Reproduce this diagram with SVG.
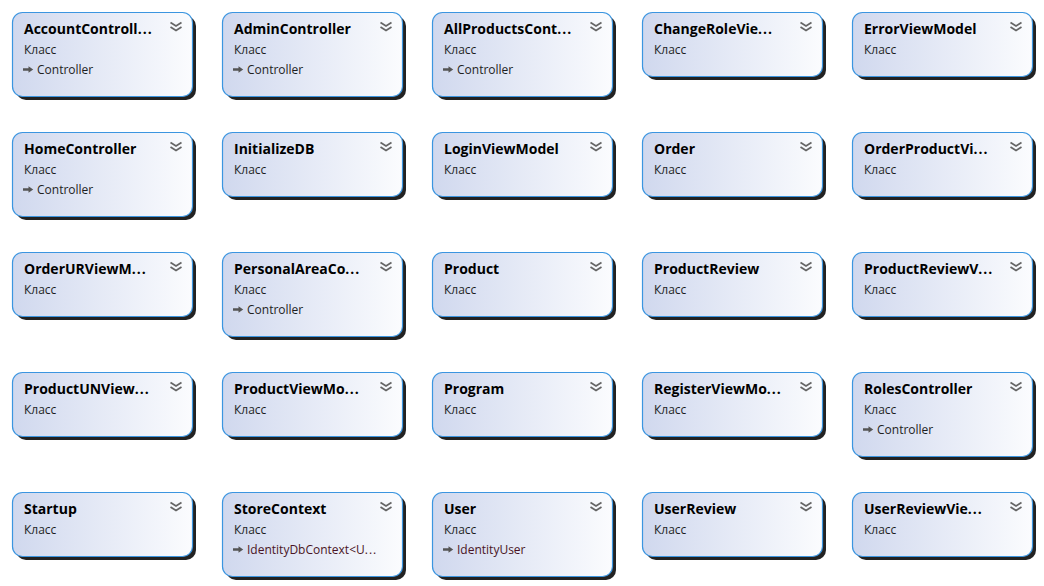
<svg xmlns="http://www.w3.org/2000/svg" xmlns:xlink="http://www.w3.org/1999/xlink" width="1044" height="586" viewBox="0 0 1044 586">
<style>
.title{font-family:"Open Sans","Noto Sans",sans-serif;font-weight:bold;font-size:14px;fill:#000}
.kind{font-family:"Open Sans","Noto Sans",sans-serif;font-size:12px;fill:#1e1e1e}
.base{font-family:"Open Sans","Noto Sans",sans-serif;font-size:12px;fill:#1e1e1e}
.ext{fill:#4a1524}
.dots{letter-spacing:1px}
.shadow{fill:#222}
.box{fill:url(#grad);stroke:#3b95e0;stroke-width:1.2}
.chev{fill:none;stroke:#666;stroke-width:1.8}
.icon{fill:#555}
</style>
<defs>
<linearGradient id="grad" x1="0" y1="0" x2="1" y2="0">
<stop offset="0" stop-color="#d0d8ee"/>
<stop offset="1" stop-color="#fbfcfe"/>
</linearGradient>
<g id="box3">
<rect class="shadow" x="4" y="4" width="180" height="84" rx="10"/>
<rect class="box" x="0.5" y="0.5" width="180" height="84" rx="10"/>
<path class="chev" d="M158.5,10.5 L164,14 L169.5,10.5 M158.5,15 L164,18.5 L169.5,15"/>
<path class="icon" d="M11,56.3 H16.5 V54.3 L21.2,57.5 L16.5,60.7 V58.7 H11 Z"/>
</g>
<g id="box2">
<rect class="shadow" x="4" y="4" width="180" height="64" rx="10"/>
<rect class="box" x="0.5" y="0.5" width="180" height="64" rx="10"/>
<path class="chev" d="M158.5,10.5 L164,14 L169.5,10.5 M158.5,15 L164,18.5 L169.5,15"/>
</g>
</defs>
<g id="connectors"/>
<g id="AccountController" transform="translate(12,12)"><use href="#box3"/><text class="title" x="12" y="21.5">AccountControll<tspan class="dots">...</tspan></text><text class="kind" x="12" y="41.5">Класс</text><text class="base" x="25" y="61.5">Controller</text></g>
<g id="AdminController" transform="translate(222,12)"><use href="#box3"/><text class="title" x="12" y="21.5">AdminController</text><text class="kind" x="12" y="41.5">Класс</text><text class="base" x="25" y="61.5">Controller</text></g>
<g id="AllProductsController" transform="translate(432,12)"><use href="#box3"/><text class="title" x="12" y="21.5">AllProductsCont<tspan class="dots">...</tspan></text><text class="kind" x="12" y="41.5">Класс</text><text class="base" x="25" y="61.5">Controller</text></g>
<g id="ChangeRoleViewModel" transform="translate(642,12)"><use href="#box2"/><text class="title" x="12" y="21.5">ChangeRoleVie<tspan class="dots">...</tspan></text><text class="kind" x="12" y="41.5">Класс</text></g>
<g id="ErrorViewModel" transform="translate(852,12)"><use href="#box2"/><text class="title" x="12" y="21.5">ErrorViewModel</text><text class="kind" x="12" y="41.5">Класс</text></g>

<g id="HomeController" transform="translate(12,132)"><use href="#box3"/><text class="title" x="12" y="21.5">HomeController</text><text class="kind" x="12" y="41.5">Класс</text><text class="base" x="25" y="61.5">Controller</text></g>
<g id="InitializeDB" transform="translate(222,132)"><use href="#box2"/><text class="title" x="12" y="21.5">InitializeDB</text><text class="kind" x="12" y="41.5">Класс</text></g>
<g id="LoginViewModel" transform="translate(432,132)"><use href="#box2"/><text class="title" x="12" y="21.5">LoginViewModel</text><text class="kind" x="12" y="41.5">Класс</text></g>
<g id="Order" transform="translate(642,132)"><use href="#box2"/><text class="title" x="12" y="21.5">Order</text><text class="kind" x="12" y="41.5">Класс</text></g>
<g id="OrderProductViewModel" transform="translate(852,132)"><use href="#box2"/><text class="title" x="12" y="21.5">OrderProductVi<tspan class="dots">...</tspan></text><text class="kind" x="12" y="41.5">Класс</text></g>

<g id="OrderURViewModel" transform="translate(12,252)"><use href="#box2"/><text class="title" x="12" y="21.5">OrderURViewM<tspan class="dots">...</tspan></text><text class="kind" x="12" y="41.5">Класс</text></g>
<g id="PersonalAreaController" transform="translate(222,252)"><use href="#box3"/><text class="title" x="12" y="21.5">PersonalAreaCo<tspan class="dots">...</tspan></text><text class="kind" x="12" y="41.5">Класс</text><text class="base" x="25" y="61.5">Controller</text></g>
<g id="Product" transform="translate(432,252)"><use href="#box2"/><text class="title" x="12" y="21.5">Product</text><text class="kind" x="12" y="41.5">Класс</text></g>
<g id="ProductReview" transform="translate(642,252)"><use href="#box2"/><text class="title" x="12" y="21.5">ProductReview</text><text class="kind" x="12" y="41.5">Класс</text></g>
<g id="ProductReviewViewModel" transform="translate(852,252)"><use href="#box2"/><text class="title" x="12" y="21.5">ProductReviewV<tspan class="dots">...</tspan></text><text class="kind" x="12" y="41.5">Класс</text></g>

<g id="ProductUNViewModel" transform="translate(12,372)"><use href="#box2"/><text class="title" x="12" y="21.5">ProductUNView<tspan class="dots">...</tspan></text><text class="kind" x="12" y="41.5">Класс</text></g>
<g id="ProductViewModel" transform="translate(222,372)"><use href="#box2"/><text class="title" x="12" y="21.5">ProductViewMo<tspan class="dots">...</tspan></text><text class="kind" x="12" y="41.5">Класс</text></g>
<g id="Program" transform="translate(432,372)"><use href="#box2"/><text class="title" x="12" y="21.5">Program</text><text class="kind" x="12" y="41.5">Класс</text></g>
<g id="RegisterViewModel" transform="translate(642,372)"><use href="#box2"/><text class="title" x="12" y="21.5">RegisterViewMo<tspan class="dots">...</tspan></text><text class="kind" x="12" y="41.5">Класс</text></g>
<g id="RolesController" transform="translate(852,372)"><use href="#box3"/><text class="title" x="12" y="21.5">RolesController</text><text class="kind" x="12" y="41.5">Класс</text><text class="base" x="25" y="61.5">Controller</text></g>

<g id="Startup" transform="translate(12,492)"><use href="#box2"/><text class="title" x="12" y="21.5">Startup</text><text class="kind" x="12" y="41.5">Класс</text></g>
<g id="StoreContext" transform="translate(222,492)"><use href="#box3"/><text class="title" x="12" y="21.5">StoreContext</text><text class="kind" x="12" y="41.5">Класс</text><text class="base ext" x="25" y="61.5">IdentityDbContext&lt;U<tspan class="dots">...</tspan></text></g>
<g id="User" transform="translate(432,492)"><use href="#box3"/><text class="title" x="12" y="21.5">User</text><text class="kind" x="12" y="41.5">Класс</text><text class="base ext" x="25" y="61.5">IdentityUser</text></g>
<g id="UserReview" transform="translate(642,492)"><use href="#box2"/><text class="title" x="12" y="21.5">UserReview</text><text class="kind" x="12" y="41.5">Класс</text></g>
<g id="UserReviewViewModel" transform="translate(852,492)"><use href="#box2"/><text class="title" x="12" y="21.5">UserReviewVie<tspan class="dots">...</tspan></text><text class="kind" x="12" y="41.5">Класс</text></g>
</svg>
